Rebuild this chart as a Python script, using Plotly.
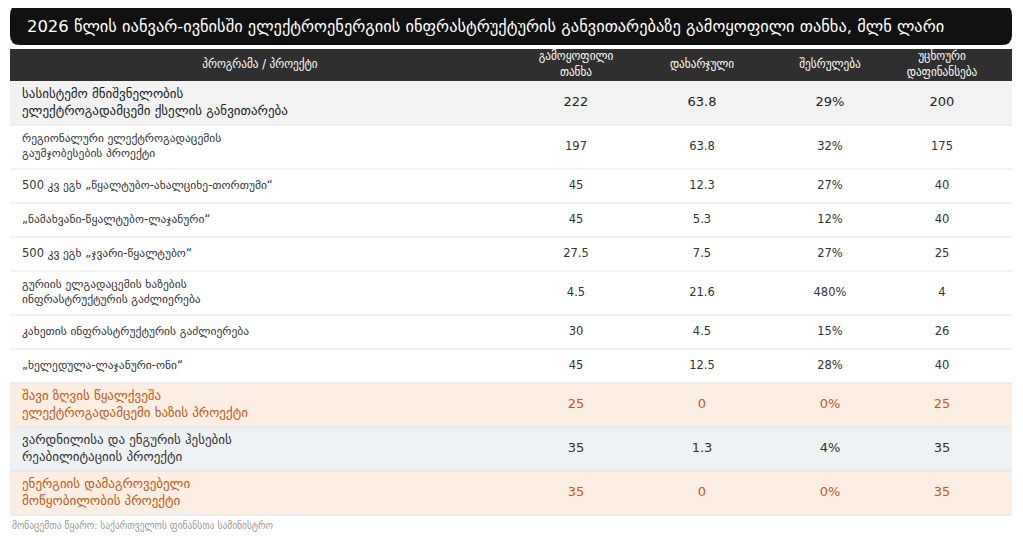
import plotly.graph_objects as go

title = ("2026 წლის იანვარ-ივნისში ელექტროენერგიის ინფრასტრუქტურის "
         "განვითარებაზე გამოყოფილი თანხა, მლნ ლარი")
source = "მონაცემთა წყარო: საქართველოს ფინანსთა სამინისტრო"

headers = ["პროგრამა / პროექტი", "გამოყოფილი<br>თანხა", "დახარჯული",
           "შესრულება", "უცხოური<br>დაფინანსება"]

programs = [
    "სასისტემო მნიშვნელობის<br>ელექტროგადამცემი ქსელის განვითარება",
    "რეგიონალური ელექტროგადაცემის<br>გაუმჯობესების პროექტი",
    "500 კვ ეგხ „წყალტუბო-ახალციხე-თორთუმი“",
    "„ნამახვანი-წყალტუბო-ლაჯანური“",
    "500 კვ ეგხ „ჯვარი-წყალტუბო“",
    "გურიის ელგადაცემის ხაზების<br>ინფრასტრუქტურის გაძლიერება",
    "კახეთის ინფრასტრუქტურის გაძლიერება",
    "„ხელედულა-ლაჯანური-ონი“",
    "შავი ზღვის წყალქვეშა<br>ელექტროგადამცემი ხაზის პროექტი",
    "ვარდნილისა და ენგურის ჰესების<br>რეაბილიტაციის პროექტი",
    "ენერგიის დამაგროვებელი<br>მოწყობილობის პროექტი",
]
allocated = [222, 197, 45, 45, 27.5, 4.5, 30, 45, 25, 35, 35]
spent = [63.8, 63.8, 12.3, 5.3, 7.5, 21.6, 4.5, 12.5, 0, 1.3, 0]
execution_pct = [29, 32, 27, 12, 27, 480, 15, 28, 0, 4, 0]
foreign = [200, 175, 40, 40, 25, 4, 26, 40, 25, 35, 35]

# row style: "top" = first (grey), "plain", "new" = orange, "rehab" = blue-grey
row_kind = ["top", "plain", "plain", "plain", "plain", "plain", "plain",
            "plain", "new", "rehab", "new"]

FILL = {"top": "#f2f2f2", "plain": "#ffffff", "new": "#fdeee4", "rehab": "#eef2f5"}
FONT_COLOR = {"top": "#222222", "plain": "#333333", "new": "#bf5a16", "rehab": "#333333"}
FONT_SIZE = {"top": 13, "plain": 11.5, "new": 13, "rehab": 13}

# page geometry (px); the page body adds an 8px margin around the figure
W, H, OFF = 1015, 528, 8
LEFT, RIGHT = 10, 1012
HEAD_TOP, HEAD_H = 49, 32
ROW_H1, ROW_H2 = 34, 44
col_x = [22, 576, 702, 830, 942]
FONT = "DejaVu Sans"
FONT_C = "DejaVu Sans Condensed, DejaVu Sans"


def fmt(v):
    return f"{v:g}"


cols = [programs,
        [fmt(v) for v in allocated],
        [fmt(v) for v in spent],
        [f"{v}%" for v in execution_pct],
        [fmt(v) for v in foreign]]

# row heights follow the number of text lines
heights = [ROW_H2 if "<br>" in p else ROW_H1 for p in programs]
tops = []
y = HEAD_TOP + HEAD_H
for h in heights:
    tops.append(y)
    y += h
centers = [t + h / 2 for t, h in zip(tops, heights)]
bottoms = [t + h for t, h in zip(tops, heights)]

fig = go.Figure()

# header band
fig.add_trace(go.Bar(
    y=[HEAD_TOP + HEAD_H / 2], x=[RIGHT - LEFT], base=LEFT, width=[HEAD_H],
    orientation="h", marker=dict(color="#2f2f2f", line=dict(width=0)),
    hoverinfo="skip", showlegend=False,
))
# row bands
fig.add_trace(go.Bar(
    y=centers, x=[RIGHT - LEFT] * len(centers), base=LEFT, width=heights,
    orientation="h",
    marker=dict(color=[FILL[k] for k in row_kind], line=dict(width=0)),
    hoverinfo="skip", showlegend=False,
))
# row separators
sx, sy = [], []
for b in bottoms:
    sx += [LEFT, RIGHT, None]
    sy += [b, b, None]
fig.add_trace(go.Scatter(
    x=sx, y=sy, mode="lines", line=dict(color="#e2e2e2", width=1),
    hoverinfo="skip", showlegend=False,
))

# header labels
head_x = [(LEFT + 510) / 2] + col_x[1:]
fig.add_trace(go.Scatter(
    x=head_x, y=[HEAD_TOP + HEAD_H / 2] * len(headers), mode="text",
    text=headers, textposition="middle center",
    textfont=dict(family=FONT_C, size=12.5, color="white"),
    hoverinfo="skip", showlegend=False,
))

# cell texts
sizes = [FONT_SIZE[k] for k in row_kind]
colors = [FONT_COLOR[k] for k in row_kind]
for i, (cx, vals) in enumerate(zip(col_x, cols)):
    fig.add_trace(go.Scatter(
        x=[cx] * len(vals), y=centers, mode="text", text=vals,
        textposition="middle right" if i == 0 else "middle center",
        textfont=dict(family=FONT, size=sizes, color=colors),
        hoverinfo="skip", showlegend=False,
    ))

# rounded black title box
r = 10
x0, x1, y0, y1 = LEFT, RIGHT, 5, 45
path = (f"M {x0 + r},{y0} L {x1 - r},{y0} Q {x1},{y0} {x1},{y0 + r} "
        f"L {x1},{y1 - r} Q {x1},{y1} {x1 - r},{y1} "
        f"L {x0 + r},{y1} Q {x0},{y1} {x0},{y1 - r} "
        f"L {x0},{y0 + r} Q {x0},{y0} {x0 + r},{y0} Z")
fig.add_shape(type="path", path=path, xref="x", yref="y",
              fillcolor="#111111", line=dict(width=0), layer="below")

fig.add_annotation(text=title, xref="x", yref="y", x=25, y=26,
                   xanchor="left", yanchor="middle", showarrow=False,
                   font=dict(family=FONT, size=16.4, color="white"))
fig.add_annotation(text=source, xref="x", yref="y", x=LEFT, y=525,
                   xanchor="left", yanchor="middle", showarrow=False,
                   font=dict(family=FONT_C, size=10.5, color="#999999"))

fig.update_xaxes(range=[OFF, OFF + W], visible=False, fixedrange=True)
fig.update_yaxes(range=[OFF + H, OFF], visible=False, fixedrange=True)
fig.update_layout(
    width=W, height=H,
    margin=dict(l=0, r=0, t=0, b=0),
    barmode="overlay",
    paper_bgcolor="white",
    plot_bgcolor="white",
    showlegend=False,
)

fig.write_html("out.html", config={"displayModeBar": False})
